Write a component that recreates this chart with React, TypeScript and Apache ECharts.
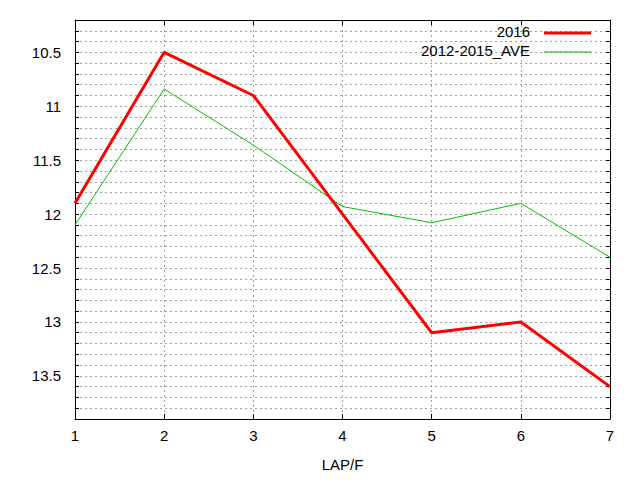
import React, { useEffect, useRef } from 'react';
import * as echarts from 'echarts';

// lap numbers on the x axis
const laps = [1, 2, 3, 4, 5, 6, 7];
// times for 2016 and the 2012-2015 average
const series2016 = [11.9, 10.5, 10.9, 12.0, 13.1, 13.0, 13.6];
const seriesAve = [12.1, 10.84, 11.36, 11.93, 12.08, 11.9, 12.4];
const seriesNames = ['2016', '2012-2015_AVE'];
const seriesColors = ['#ff0000', '#00c000'];

const FONT = '"Liberation Sans", Arial, sans-serif';
const GRID_LINE = { show: true, lineStyle: { color: '#a0a0a0', type: [2, 3] as any, width: 1 } };

const App: React.FC = () => {
  const chartRef = useRef<HTMLDivElement>(null);

  useEffect(() => {
    if (!chartRef.current) return;
    const chart = echarts.init(chartRef.current, undefined, { renderer: 'svg' });

    const pairs = (ys: number[]) => laps.map((x, i) => [x, ys[i]]);

    // y labels only on multiples of 0.5, gnuplot style
    const yLabel = (v: number) =>
      Math.abs(v * 2 - Math.round(v * 2)) < 1e-6 ? String(+v.toFixed(1)) : '';

    const yBase = {
      type: 'value' as const,
      inverse: true,
      min: 10.2,
      max: 13.9,
      interval: 0.1,
      axisLine: { show: true, lineStyle: { color: '#000', width: 1 } },
      axisTick: { show: true, inside: true, length: 4, lineStyle: { color: '#000' } },
    };

    const xBase = {
      type: 'value' as const,
      min: 1,
      max: 7,
      interval: 1,
      axisLine: { show: true, onZero: false, lineStyle: { color: '#000', width: 1 } },
      axisTick: { show: true, inside: true, length: 5, lineStyle: { color: '#000' } },
    };

    chart.setOption({
      animation: false,
      backgroundColor: '#fff',
      textStyle: { fontFamily: FONT },
      grid: { left: 75, right: 30, top: 20, bottom: 61 },
      xAxis: [
        {
          ...xBase,
          position: 'bottom',
          splitLine: GRID_LINE,
          axisLabel: { fontSize: 15, color: '#000', margin: 9, fontFamily: FONT },
          name: 'LAP/F',
          nameLocation: 'middle',
          nameGap: 38,
          nameTextStyle: { fontSize: 15, color: '#000', fontFamily: FONT },
        },
        {
          ...xBase,
          position: 'top',
          splitLine: { show: false },
          axisLabel: { show: false },
        },
      ],
      yAxis: [
        {
          ...yBase,
          position: 'left',
          splitLine: GRID_LINE,
          axisLabel: { fontSize: 15, color: '#000', margin: 14, fontFamily: FONT, formatter: yLabel },
        },
        {
          ...yBase,
          position: 'right',
          splitLine: { show: false },
          axisLabel: { show: false },
        },
      ],
      series: [
        {
          name: seriesNames[0],
          type: 'line',
          data: pairs(series2016),
          symbol: 'none',
          lineStyle: { color: seriesColors[0], width: 3 },
          z: 3,
        },
        {
          name: seriesNames[1],
          type: 'line',
          data: pairs(seriesAve),
          symbol: 'none',
          lineStyle: { color: seriesColors[1], width: 1 },
          z: 2,
        },
      ],
      graphic: seriesNames.flatMap((name, i) => [
        {
          type: 'text',
          right: 640 - 530,
          top: 33 + i * 19 - 9,
          style: { text: name, fontSize: 15, fill: '#000', fontFamily: FONT, align: 'right' },
          z: 10,
        },
        {
          type: 'line',
          shape: { x1: 544, y1: 33 + i * 19, x2: 591, y2: 33 + i * 19 },
          style: { stroke: seriesColors[i], lineWidth: i === 0 ? 3 : 1 },
          z: 10,
        },
      ]),
    });

    return () => chart.dispose();
  }, []);

  return (
    <div
      ref={chartRef}
      style={{ position: 'fixed', left: 0, top: 0, width: 640, height: 480, background: '#fff' }}
    />
  );
};

export default App;
